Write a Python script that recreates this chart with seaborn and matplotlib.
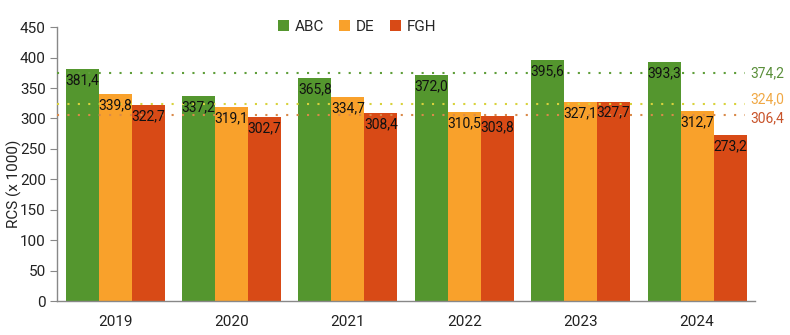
import pandas as pd
import matplotlib.pyplot as plt
import seaborn as sns

# === DONNÉES ===
years = ["2019", "2020", "2021", "2022", "2023", "2024"]
series = ["ABC", "DE", "FGH"]
abc = [381.4, 337.2, 365.8, 372.0, 395.6, 393.3]
de = [339.8, 319.1, 334.7, 310.5, 327.1, 312.7]
fgh = [322.7, 302.7, 308.4, 303.8, 327.7, 273.2]
colors = {"ABC": "#54962e", "DE": "#f9a12b", "FGH": "#d84a16"}
line_colors = {"ABC": "#5f9e3a", "DE": "#d8d23c", "FGH": "#d98a4a"}
text_colors = {"ABC": "#5a8f3a", "DE": "#f0a844", "FGH": "#c8532a"}
label_shift = {"ABC": 0, "DE": 3, "FGH": -3}

df = pd.DataFrame({
    "year": years * 3,
    "serie": ["ABC"] * 6 + ["DE"] * 6 + ["FGH"] * 6,
    "value": abc + de + fgh,
})

sns.set_style("white")
plt.rcParams["font.family"] = ["Roboto", "DejaVu Sans"]

fig, ax = plt.subplots(figsize=(7.9, 3.35), dpi=100)
fig.subplots_adjust(left=0.072, right=0.956, bottom=0.101, top=0.919)

sns.barplot(data=df, x="year", y="value", hue="serie", palette=colors,
            width=0.85, gap=0, saturation=1, linewidth=0, ax=ax, zorder=2)

# étiquettes dans le haut des barres
for cont in ax.containers:
    for bar in cont:
        h = bar.get_height()
        ax.annotate(f"{h:.1f}".replace(".", ","),
                    (bar.get_x() + bar.get_width() / 2, h),
                    xytext=(0, -3), textcoords="offset points",
                    ha="center", va="top", fontsize=10, color="#111111", zorder=4)

# moyennes en pointillés
for name, vals in zip(series, [abc, de, fgh]):
    m = round(sum(vals) / len(vals), 1)
    ax.axhline(m, xmin=0, xmax=0.985, color=line_colors[name],
               linestyle=(0, (1, 4)), linewidth=1.5, zorder=3)
    ax.annotate(f"{m:.1f}".replace(".", ","), (0.993, m),
                xycoords=ax.get_yaxis_transform(),
                xytext=(0, label_shift[name]), textcoords="offset points",
                ha="left", va="center", fontsize=10, color=text_colors[name])

ax.set_ylim(0, 450)
ax.set_xlim(-0.5, 5.5)
ax.set_yticks(range(0, 451, 50))
ax.set_xlabel("")
ax.set_ylabel("RCS (x 1000)", fontsize=11, color="#222222")
ax.yaxis.set_label_coords(-0.05, 0.43)

ax.set_xticks([i - 0.5 for i in range(7)], minor=True)
ax.tick_params(axis="x", which="major", length=0, labelsize=11, pad=10, labelcolor="#222222")
ax.tick_params(axis="x", which="minor", length=5, color="#888888", direction="out")
ax.tick_params(axis="y", length=5, color="#888888", labelsize=11, pad=3,
               labelcolor="#222222", direction="out", left=True)
for s in ["top", "right"]:
    ax.spines[s].set_visible(False)
for s in ["left", "bottom"]:
    ax.spines[s].set_color("#888888")
    ax.spines[s].set_linewidth(1)

sns.move_legend(ax, "center", bbox_to_anchor=(0.452, 0.92), bbox_transform=fig.transFigure,
                ncol=3, frameon=False, title=None, fontsize=11,
                handlelength=0.7, handleheight=0.7, handletextpad=0.4, columnspacing=1.0)

plt.savefig("out.png", dpi=100)
